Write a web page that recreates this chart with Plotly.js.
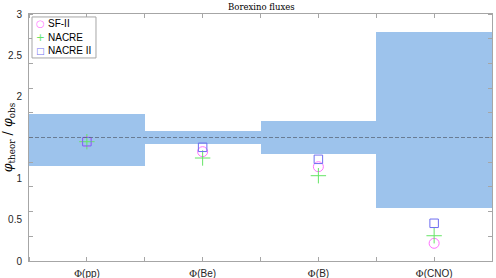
<!DOCTYPE html>
<html>
<head>
<meta charset="utf-8">
<script src="https://cdn.plot.ly/plotly-3.0.1.min.js"></script>
<style>html,body{margin:0;padding:0;background:#fff;}#chart{width:496px;height:278px;}</style>
</head>
<body>
<div id="chart"></div>
<script>
// categories
const categories = ['pp', 'Be', 'B', 'CNO'];
// observed uncertainty band (lower / upper) per flux
const bandLow  = [1.154, 1.421, 1.296, 0.640];
const bandHigh = [1.785, 1.579, 1.704, 2.785];
// reference level (dashed line)
const refLevel = 1.5;
// model predictions
const sf2     = [1.449, 1.328, 1.145, 0.215];
const nacre   = [1.449, 1.251, 1.036, 0.307];
const nacre2  = [1.449, 1.381, 1.235, 0.458];
// y tick labels
const yTickVals = [0, 0.5, 1, 2, 2.5, 3];
const yTickText = ['0', '0.5', '1', '2', '2.5', '3'];
// series names and legend glyphs
const seriesNames = ['SF-II', 'NACRE', 'NACRE II'];
const legendGlyphs = ['○', '+', '□'];

const xIdx = categories.map((c, i) => i + 1);
const xTickText = categories.map(c => '<span style="font-family:\'DejaVu Serif\'">Φ</span>(' + c + ')');

const colors = ['#ff70ff', '#66e466', '#6e6ef0'];

const traces = [
  {
    type: 'bar', x: xIdx, base: bandLow,
    y: bandHigh.map((h, i) => h - bandLow[i]),
    width: 1, marker: {color: '#9dc3ec', line: {width: 0}},
    hoverinfo: 'skip'
  },
  {
    type: 'scatter', mode: 'markers', name: seriesNames[0], x: xIdx, y: sf2,
    marker: {symbol: 'circle-open', size: 10, color: colors[0], line: {width: 1}}
  },
  {
    type: 'scatter', mode: 'markers', name: seriesNames[1], x: xIdx, y: nacre,
    marker: {symbol: 'cross-thin-open', size: 11, color: colors[1], line: {width: 1, color: colors[1]}}
  },
  {
    type: 'scatter', mode: 'markers', name: seriesNames[2], x: xIdx, y: nacre2,
    marker: {symbol: 'square-open', size: 8.5, color: colors[2], line: {width: 1}}
  }
];

// compact legend box (paper coordinates)
const legX0 = 0.0065, legX1 = 0.1447, legY0 = 0.822, legY1 = 0.988;
const legRowY = [0.960, 0.905, 0.851];
const glyphSizes = [10, 10.5, 9];
const annotations = [];
seriesNames.forEach((n, i) => {
  annotations.push({
    xref: 'paper', yref: 'paper', x: 0.0238, y: legRowY[i], xanchor: 'center', yanchor: 'middle',
    text: legendGlyphs[i], showarrow: false,
    font: {family: 'DejaVu Sans, sans-serif', size: glyphSizes[i], color: colors[i]}
  });
  annotations.push({
    xref: 'paper', yref: 'paper', x: 0.0375, y: legRowY[i], xanchor: 'left', yanchor: 'middle',
    text: n, showarrow: false,
    font: {family: 'Liberation Sans, Arial, sans-serif', size: 10, color: '#000'}
  });
});

const axisCol = '#a6a6a6';
const layout = {
  width: 496, height: 278,
  margin: {l: 29, r: 4, t: 14, b: 17, pad: 0},
  paper_bgcolor: '#fff', plot_bgcolor: '#fff',
  font: {family: 'Liberation Sans, Arial, sans-serif', size: 10, color: '#262626'},
  title: {
    text: 'Borexino fluxes',
    font: {family: 'DejaVu Serif, serif', size: 8.5, color: '#000'},
    x: 0.527, xanchor: 'center', y: 0.985, yanchor: 'top'
  },
  bargap: 0,
  showlegend: false,
  xaxis: {
    range: [0.5, 4.5], tickmode: 'array', tickvals: xIdx, ticktext: xTickText,
    ticks: '', showgrid: false, zeroline: false,
    showline: true, linecolor: axisCol, linewidth: 1, mirror: 'allticks',
    minor: {dtick: 0.5, tick0: 0.5, ticks: 'inside', ticklen: 4, tickcolor: axisCol, showgrid: false},
    tickfont: {size: 10, color: '#262626'}, ticklabelstandoff: 3
  },
  yaxis: {
    range: [0, 3], tickmode: 'array', tickvals: yTickVals, ticktext: yTickText,
    ticks: '', showgrid: false, zeroline: false,
    showline: true, linecolor: axisCol, linewidth: 1, mirror: 'allticks',
    minor: {dtick: 0.3, tick0: 0, ticks: 'inside', ticklen: 4, tickcolor: axisCol, showgrid: false},
    tickfont: {size: 10, color: '#262626'}, ticklabelstandoff: 4,
    title: {
      text: '<i>φ</i><sub>theor</sub><span style="font-size:13px"> / </span><i>φ</i><sub>obs</sub>',
      font: {family: 'DejaVu Serif, serif', size: 12.5, color: '#000'},
      standoff: 1
    }
  },
  shapes: [
    {
      type: 'line', xref: 'paper', x0: 0, x1: 1, yref: 'y', y0: refLevel, y1: refLevel,
      line: {color: '#5c6a7e', width: 0.8, dash: '4px,2px'}
    },
    {
      type: 'rect', xref: 'paper', yref: 'paper', x0: legX0, x1: legX1, y0: legY0, y1: legY1,
      fillcolor: '#fff', line: {color: '#a6a6a6', width: 1}, layer: 'above'
    }
  ],
  annotations: annotations
};

Plotly.newPlot('chart', traces, layout, {displayModeBar: false, staticPlot: true});
</script>
</body>
</html>
